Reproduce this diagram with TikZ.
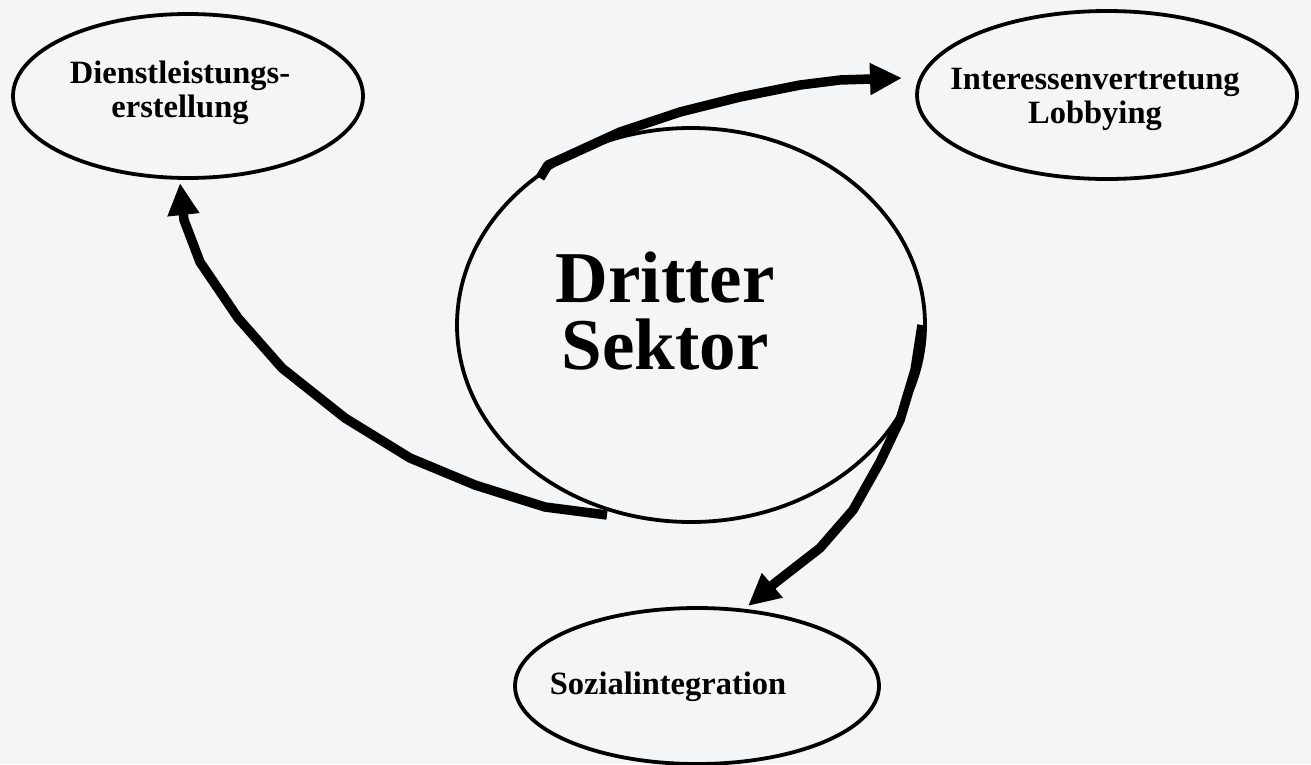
\documentclass[tikz,border=0pt]{standalone}
\usepackage{fontspec}
\setmainfont{Liberation Serif}
\usetikzlibrary{arrows.meta}
\definecolor{bg}{HTML}{F4F5F7}
\begin{document}
\begin{tikzpicture}[x=1pt,y=-1pt,
  oval/.style={line width=3.8pt},
  lbl/.style={font=\bfseries\fontsize{32.5}{34}\selectfont,align=center},
  flow/.style={line width=9.5pt,line join=round,-{Triangle[length=32pt,width=30pt]}}]
\fill[bg] (0,0) rectangle (1311,764);
\useasboundingbox (0,0) rectangle (1311,764);
\draw[oval] (691,325) ellipse [x radius=234, y radius=197];
\node[font=\bfseries\fontsize{73}{67}\selectfont,align=center] (ct) at (665,311) {Dritter\\Sektor};
\draw[oval] (188,96) ellipse [x radius=175, y radius=82];
\node[lbl] (d) at (180,93) {Dienstleistungs-\\erstellung};
\draw[oval] (1107,95) ellipse [x radius=190, y radius=84];
\node[lbl] (i) at (1095,99) {Interessenvertretung\\Lobbying};
\draw[oval] (697,686) ellipse [x radius=182, y radius=78];
\node[lbl] (s) at (668,687) {Sozialintegration};
\coordinate (a1s) at (607,515);
\coordinate (a1e) at (180,183);
\coordinate (a2s) at (540,178);
\coordinate (a2e) at (902,78);
\coordinate (a3s) at (922,325);
\coordinate (a3e) at (748,606);
\draw[flow] (a1s) -- (545,507) -- (475,485) -- (410,458) -- (345,418) -- (282,368) -- (238,318) -- (200,262) -- (184,220) -- (a1e);
\draw[flow] (a2s) -- (548,165) -- (620,132) -- (680,112) -- (740,97) -- (800,85) -- (840,80) -- (a2e);
\draw[flow] (a3s) -- (915,370) -- (900,420) -- (880,462) -- (853,510) -- (820,548) -- (775,583) -- (a3e);
\end{tikzpicture}
\end{document}
